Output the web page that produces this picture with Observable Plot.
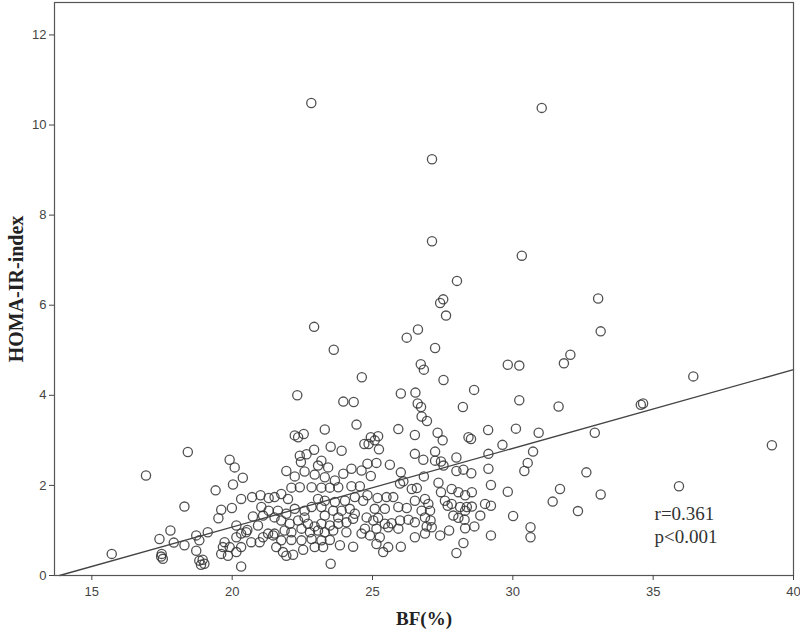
<!DOCTYPE html>
<html><head><meta charset="utf-8">
<script src="https://cdn.jsdelivr.net/npm/d3@7"></script>
<script src="https://cdn.jsdelivr.net/npm/@observablehq/plot@0.6"></script>
<style>body{margin:0;background:#fff}#chart{width:800px;height:636px}</style>
</head><body><div id="chart"></div>
<script>
// Body fat (%) values of each subject
const bf = [
  // upper / outlying points
  22.82,31.03,27.12,27.12,30.32,28.01,27.52,27.41,27.62,26.62,26.22,27.23,26.72,26.83,24.62,27.53,29.82,30.23,31.82,32.05,28.62,26.01,26.53,26.61,26.73,30.23,23.96,24.33,28.22,31.63,22.92,23.62,22.32,33.04,33.13,36.43,34.56,34.64,32.92,39.23,32.62,31.68,33.13,35.92,32.32,
  // 28-31 %
  29.12,30.11,30.92,28.42,28.51,29.63,29.13,30.72,27.99,30.53,30.41,29.13,27.99,28.24,28.52,29.22,29.82,31.42,27.82,28.06,28.30,28.54,27.82,28.12,28.36,28.54,28.30,29.01,29.22,28.84,30.01,27.88,28.06,28.28,28.63,28.30,30.63,30.63,29.22,28.24,27.99,
  // 24.5-28 %
  26.75,26.94,25.92,26.51,27.32,27.50,24.94,25.20,25.08,25.23,24.71,24.86,26.51,26.81,27.23,27.23,27.44,27.53,24.82,25.14,25.62,26.01,24.94,26.83,25.98,26.10,27.35,27.44,26.40,26.58,24.82,25.18,25.50,25.74,26.51,26.87,26.99,27.58,27.68,24.67,25.08,25.44,25.92,26.22,26.75,27.05,26.87,27.07,27.11,24.79,25.03,25.20,25.44,25.68,25.98,26.28,26.51,24.73,25.14,25.56,25.92,26.93,24.61,24.91,25.26,26.87,26.51,27.41,27.73,25.14,25.56,26.01,25.38,
  // 21.5-24.5 %
  24.43,23.30,22.23,22.35,22.55,23.51,23.90,22.92,22.41,22.65,22.45,23.18,23.42,23.06,21.93,22.23,22.11,22.58,22.94,23.30,23.66,23.96,24.25,24.61,21.75,21.51,21.99,22.41,22.83,23.18,23.48,23.78,24.25,24.55,23.06,23.30,23.66,24.02,24.37,21.63,21.93,22.23,22.58,22.83,22.58,23.18,23.30,23.60,23.90,24.19,24.37,23.78,21.51,21.75,22.05,22.35,22.70,22.94,23.18,23.48,23.78,24.07,24.31,21.51,21.87,22.11,22.47,22.77,23.06,23.30,23.60,24.07,21.75,22.11,22.47,22.83,23.18,23.48,23.84,24.31,21.57,21.81,21.93,22.17,22.53,22.94,23.24,23.51,
  // 18-21.5 %
  18.42,19.91,20.09,20.38,20.03,19.41,20.32,20.71,21.01,21.30,18.30,19.61,19.99,19.51,21.04,21.30,21.10,20.74,20.92,20.54,20.15,19.13,18.72,18.83,18.30,18.72,18.83,18.95,19.01,18.89,19.73,19.67,19.61,19.85,19.91,20.15,20.32,20.50,20.68,20.98,21.10,21.28,21.46,20.32,20.15,20.32,
  // below 18 %
  16.93,17.80,17.41,17.92,17.49,17.53,17.47,15.71
];
// HOMA-IR index of each subject (same order)
const homa = [
  10.49,10.38,9.24,7.42,7.10,6.54,6.13,6.05,5.77,5.46,5.28,5.05,4.69,4.57,4.40,4.34,4.68,4.66,4.71,4.90,4.12,4.04,4.06,3.82,3.74,3.89,3.86,3.85,3.74,3.75,5.52,5.01,4.00,6.15,5.42,4.42,3.79,3.82,3.17,2.89,2.29,1.92,1.80,1.98,1.43,
  3.23,3.26,3.17,3.07,3.03,2.90,2.70,2.75,2.62,2.50,2.32,2.37,2.32,2.35,2.27,2.01,1.86,1.64,1.92,1.85,1.78,1.85,1.59,1.52,1.52,1.53,1.44,1.59,1.55,1.33,1.32,1.33,1.28,1.24,1.09,1.05,1.07,0.85,0.89,0.72,0.50,
  3.53,3.43,3.25,3.12,3.17,3.00,3.07,3.09,3.00,2.80,2.92,2.92,2.70,2.57,2.75,2.55,2.53,2.44,2.48,2.50,2.46,2.29,2.21,2.20,2.04,2.09,2.06,1.85,1.92,1.94,1.78,1.72,1.74,1.74,1.66,1.70,1.59,1.66,1.55,1.66,1.48,1.48,1.52,1.50,1.44,1.44,1.29,1.22,1.07,1.29,1.22,1.28,1.15,1.16,1.22,1.24,1.18,1.04,1.04,1.07,1.04,1.09,0.93,0.89,0.85,0.93,0.85,0.89,1.00,0.70,0.63,0.64,0.52,
  3.35,3.24,3.11,3.07,3.14,2.86,2.77,2.79,2.66,2.69,2.52,2.55,2.40,2.44,2.32,2.20,1.95,2.31,2.24,2.18,2.11,2.26,2.37,2.33,1.81,1.74,1.70,1.96,1.96,1.95,1.95,1.96,1.98,1.98,1.70,1.66,1.63,1.66,1.74,1.44,1.37,1.48,1.44,1.52,1.29,1.52,1.33,1.44,1.44,1.48,1.37,1.29,1.29,1.22,1.15,1.22,1.15,1.09,1.15,1.11,1.15,1.18,1.26,0.93,1.00,0.96,1.04,0.96,1.00,0.96,1.00,0.96,0.78,0.79,0.78,0.81,0.78,0.79,0.67,0.64,0.63,0.52,0.44,0.46,0.57,0.63,0.63,0.26,
  2.74,2.57,2.40,2.17,2.02,1.89,1.70,1.74,1.78,1.72,1.53,1.46,1.50,1.27,1.52,1.44,1.33,1.31,1.11,1.01,1.11,0.96,0.89,0.78,0.67,0.55,0.33,0.35,0.26,0.24,0.74,0.63,0.48,0.44,0.63,0.85,0.93,0.96,0.74,0.74,0.85,0.93,0.89,0.63,0.52,0.20,
  2.22,1.00,0.81,0.73,0.48,0.37,0.42,0.48
];
// fitted regression line (end points)
const fitBF = [13.85, 40];
const fitHoma = [0, 4.57];
const statsText = ["r=0.361", "p<0.001"];
const statsBF = [35.05, 35.05];
const statsHoma = [1.36, 0.86];
const xTicks = [15, 20, 25, 30, 35, 40];
const yTicks = [0, 2, 4, 6, 8, 10, 12];

const pts = bf.map((x, i) => ({bf: x, homa: homa[i]}));
const fit = fitBF.map((x, i) => ({bf: x, homa: fitHoma[i]}));
const stats = statsText.map((t, i) => ({t, bf: statsBF[i], homa: statsHoma[i]}));
const serif = "'Liberation Serif','Times New Roman',serif";

const chart = Plot.plot({
  width: 800, height: 636,
  marginLeft: 54, marginRight: 7, marginTop: 2, marginBottom: 61,
  x: {domain: [13.67, 40]},
  y: {domain: [0, 12.72]},
  style: {fontFamily: "'Liberation Sans Narrow','Liberation Sans',Arial,sans-serif", background: "#fff"},
  marks: [
    Plot.dot(pts, {x: "bf", y: "homa", r: 4.6, fill: "none", stroke: "#333", strokeWidth: 1.3, strokeOpacity: 0.85}),
    Plot.line(fit, {x: "bf", y: "homa", stroke: "#444", strokeWidth: 1.3}),
    Plot.text(stats, {x: "bf", y: "homa", text: "t", textAnchor: "start", fontFamily: serif, fontSize: 19, fill: "#333"}),
    Plot.frame({stroke: "#555", strokeWidth: 1.2}),
    Plot.axisX({ticks: xTicks, tickSize: 5, tickPadding: 6, fontSize: 13, label: null, color: "#444"}),
    Plot.axisY({ticks: yTicks, tickSize: 5, tickPadding: 3, fontSize: 13, label: null, color: "#444"}),
    Plot.text(["BF(%)"], {frameAnchor: "bottom", dy: 49, text: d => d, textAnchor: "middle", fontFamily: serif, fontWeight: "bold", fontSize: 19, fill: "#222"}),
    Plot.text(["HOMA-IR-index"], {frameAnchor: "left", dx: -38, rotate: -90, text: d => d, textAnchor: "middle", fontFamily: serif, fontWeight: "bold", fontSize: 20, fill: "#222"})
  ]
});
document.getElementById("chart").appendChild(chart);
</script>
</body></html>
